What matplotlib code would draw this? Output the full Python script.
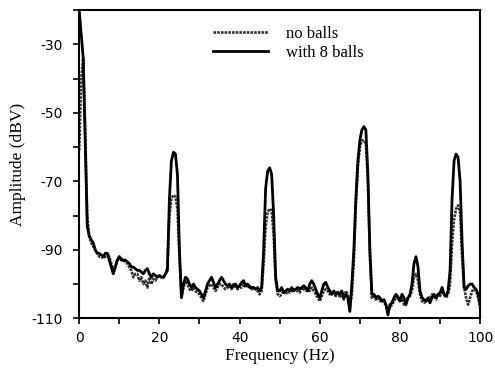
import numpy as np
import matplotlib
matplotlib.use("Agg")
import matplotlib.pyplot as plt
from matplotlib.ticker import MultipleLocator

# spectrum sampled every 0.5 Hz, 0..100 Hz
freq = np.arange(0, 100.5, 0.5)

# with 8 balls (solid)
with_balls = [
    -20, -27, -34, -58, -83, -86, -87, -88, -90, -91,
    -91, -91.5, -92, -91, -91, -93, -95, -97, -95, -93,
    -92, -93, -93, -93, -93.5, -94, -95, -95, -95.5, -96,
    -96, -96.5, -97, -96, -95.5, -97, -98, -97, -97.5, -98,
    -97.5, -98, -98, -97, -96, -75, -64, -61.5, -62, -68,
    -90, -104, -100, -98, -98.5, -100, -101, -100, -101, -101.5,
    -102, -103, -104, -102, -100, -99, -98, -99.5, -101, -100,
    -99, -98, -99, -100, -100.5, -100, -101, -100.5, -100, -101,
    -100.5, -99.5, -99, -100.5, -100, -101, -101, -101, -101.5, -101,
    -102, -101, -90, -72, -67, -66, -68, -80, -98, -102,
    -102, -101, -102.5, -102, -101.5, -102, -101, -102, -101.5, -101,
    -101.5, -101, -100.5, -101, -102, -100, -99, -100, -101.5, -103,
    -104, -102, -100, -99.5, -101, -102, -103, -102, -103, -102.5,
    -103, -102, -104, -103, -104, -108, -100, -90, -75, -64,
    -58, -55, -54, -55, -68, -90, -103, -103, -104, -103.5,
    -104, -105, -104.5, -106, -109, -106, -105.5, -104, -103, -104,
    -105, -103, -104, -106, -104, -103, -100, -94, -92, -95,
    -102, -104, -104.5, -105, -104, -105.5, -104, -103, -104, -103,
    -102.5, -101, -103, -103.5, -102, -96, -75, -64, -62, -63,
    -70, -88, -101, -101.5, -100.5, -100, -100, -101, -101.5, -103,
    -106,
]

# no balls (dotted)
no_balls = [
    -61, -40, -34, -55, -80, -86, -88, -89, -90, -91,
    -92, -92, -92.5, -92, -91, -92, -94, -96, -95, -93,
    -92, -92.5, -93, -93.5, -94, -95, -96, -98, -97, -97,
    -99, -98, -100, -99, -101, -98, -100, -98.5, -99, -98,
    -97.5, -98, -98, -97.5, -95, -80, -75, -74, -74.5, -78,
    -92, -104, -101, -99, -100, -101.5, -102, -101, -102, -102.5,
    -103, -104, -105, -103, -101, -100.5, -100, -101, -102, -101,
    -100, -100, -101, -101.5, -101, -100.5, -101.5, -100, -101, -101.5,
    -101, -101, -100, -101, -100.5, -100.5, -101.5, -101, -101.5, -102,
    -103, -102, -94, -83, -79, -78, -78.5, -86, -99, -103,
    -103.5, -103, -102, -103, -102, -102.5, -102, -101.5, -102, -102,
    -102.5, -101, -101.5, -102, -101.5, -102, -101, -102, -103, -104,
    -105, -103.5, -102, -101.5, -102, -103, -102.5, -103, -103.5, -102,
    -104, -103, -104.5, -102, -103, -107, -103, -93, -77, -66,
    -60, -58, -58, -59, -70, -92, -104, -103.5, -104.5, -104,
    -105, -104.5, -105.5, -106, -108, -107, -106, -105, -104, -103.5,
    -104, -104.5, -106, -105, -104, -103.5, -102, -98, -97, -99,
    -103, -105, -105.5, -105, -104.5, -104, -103, -103.5, -104.5, -103,
    -103.5, -102, -103, -104, -103, -100, -88, -81, -78, -77,
    -79, -92, -101, -104, -106, -104, -102, -101.5, -102, -104,
    -107,
]

plt.rcParams['axes.unicode_minus'] = False
serif = 'Liberation Serif'

fig = plt.figure(figsize=(4.95, 3.73), dpi=100)
ax = fig.add_axes([0.160, 0.1466, 0.810, 0.826])

ax.plot(freq, no_balls, color='0.2', lw=1.9, linestyle=(0, (1, 0.4)), label='no balls')
ax.plot(freq, with_balls, color='black', lw=2.0, label='with 8 balls')

ax.set_xlim(0, 100)
ax.set_ylim(-110, -20)
ax.set_xticks([0, 20, 40, 60, 80, 100])
ax.set_yticks([-110, -90, -70, -50, -30])
ax.xaxis.set_minor_locator(MultipleLocator(10))
ax.yaxis.set_minor_locator(MultipleLocator(10))
ax.tick_params(which='both', direction='out', length=4, width=1.2, labelsize=10)
ax.tick_params(axis='y', which='major', pad=8)
ax.tick_params(axis='x', which='major', pad=5)
for s in ax.spines.values():
    s.set_linewidth(1.5)

ax.set_xlabel('Frequency (Hz)', family=serif, fontsize=12.5, labelpad=2)
ax.set_ylabel('Amplitude (dBV)', family=serif, fontsize=12.5, labelpad=4)

ax.legend(loc='upper left', bbox_to_anchor=(0.334, 0.95), frameon=False,
          prop={'family': serif, 'size': 12}, handlelength=3.3,
          handletextpad=1.1, labelspacing=0.2, borderpad=0, borderaxespad=0)

fig.savefig('out.png', dpi=100)
